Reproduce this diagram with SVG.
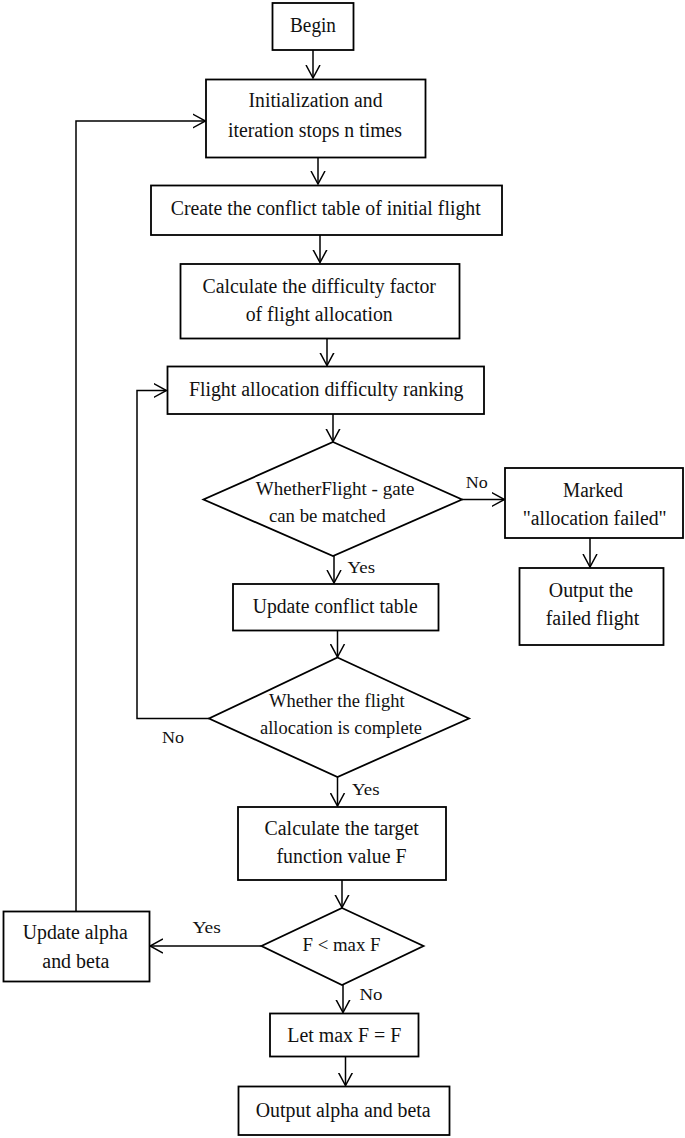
<svg xmlns="http://www.w3.org/2000/svg" width="685" height="1138" viewBox="0 0 685 1138">
<style>
.box{fill:#fff;stroke:#000;stroke-width:1.8}
.t{font-family:"Liberation Serif","Times New Roman",serif;font-size:20px;fill:#111;text-anchor:middle}
.d{font-family:"Liberation Serif","Times New Roman",serif;font-size:18px;fill:#111;text-anchor:middle}
.l{font-family:"Liberation Serif","Times New Roman",serif;font-size:17px;fill:#111}
.c{fill:none;stroke:#000;stroke-width:1.5}
</style>
<defs>
<marker id="arr" markerUnits="userSpaceOnUse" markerWidth="14" markerHeight="16" viewBox="0 0 14 16" refX="13" refY="8" orient="auto">
<path d="M0,1 L13,8 L0,15" fill="none" stroke="#000" stroke-width="1.5"/>
</marker>
</defs>
<rect width="685" height="1138" fill="#fff"/>
<g id="connectors">
<path class="c" d="M313,50 V78" marker-end="url(#arr)"/>
<path class="c" d="M318,157.5 V184" marker-end="url(#arr)"/>
<path class="c" d="M320,235 V262.5" marker-end="url(#arr)"/>
<path class="c" d="M327,338.5 V365.5" marker-end="url(#arr)"/>
<path class="c" d="M333,414 V441.5" marker-end="url(#arr)"/>
<path class="c" d="M462,499.5 H504.5" marker-end="url(#arr)"/>
<path class="c" d="M590,538 V567" marker-end="url(#arr)"/>
<path class="c" d="M334,556 V583" marker-end="url(#arr)"/>
<path class="c" d="M337.5,630.5 V657" marker-end="url(#arr)"/>
<path class="c" d="M209,718.5 H137 V390.5 H166.5" marker-end="url(#arr)"/>
<path class="c" d="M337.5,777 V806" marker-end="url(#arr)"/>
<path class="c" d="M342,880 V907.5" marker-end="url(#arr)"/>
<path class="c" d="M261.5,946 H150" marker-end="url(#arr)"/>
<path class="c" d="M76,911.5 V121 H205.5" marker-end="url(#arr)"/>
<path class="c" d="M343,985 V1012.5" marker-end="url(#arr)"/>
<path class="c" d="M345.5,1056.5 V1085.5" marker-end="url(#arr)"/>
<text class="l" x="465.7" y="488" textLength="22" lengthAdjust="spacingAndGlyphs">No</text>
<text class="l" x="347.6" y="573" textLength="27.5" lengthAdjust="spacingAndGlyphs">Yes</text>
<text class="l" x="162" y="742.5" textLength="22" lengthAdjust="spacingAndGlyphs">No</text>
<text class="l" x="352" y="795" textLength="27.5" lengthAdjust="spacingAndGlyphs">Yes</text>
<text class="l" x="192.4" y="932.5" textLength="28.4" lengthAdjust="spacingAndGlyphs">Yes</text>
<text class="l" x="359.4" y="1000" textLength="23" lengthAdjust="spacingAndGlyphs">No</text>
</g>
<g id="begin">
<rect class="box" x="272.5" y="3" width="81" height="47"/>
<text class="t" x="313" y="32" textLength="46" lengthAdjust="spacingAndGlyphs">Begin</text>
</g>
<g id="init">
<rect class="box" x="206" y="79.5" width="219.5" height="78"/>
<text class="t" x="315.5" y="107" textLength="134" lengthAdjust="spacingAndGlyphs">Initialization and</text>
<text class="t" x="315" y="137" textLength="174" lengthAdjust="spacingAndGlyphs">iteration stops n times</text>
</g>
<g id="create">
<rect class="box" x="151" y="185.5" width="351" height="49.5"/>
<text class="t" x="325.7" y="215" textLength="310" lengthAdjust="spacingAndGlyphs">Create the conflict table of initial flight</text>
</g>
<g id="calcdiff">
<rect class="box" x="180.5" y="264" width="279" height="74.5"/>
<text class="t" x="319.2" y="293" textLength="233.5" lengthAdjust="spacingAndGlyphs">Calculate the difficulty factor</text>
<text class="t" x="319.2" y="321" textLength="147" lengthAdjust="spacingAndGlyphs">of flight allocation</text>
</g>
<g id="ranking">
<rect class="box" x="167.5" y="366.5" width="316.5" height="47.5"/>
<text class="t" x="326.2" y="396" textLength="274.6" lengthAdjust="spacingAndGlyphs">Flight allocation difficulty ranking</text>
</g>
<g id="match">
<polygon class="box" points="333,442 462,499.5 333,556 203.5,499.5"/>
<text class="d" x="335.1" y="495" textLength="158.7" lengthAdjust="spacingAndGlyphs">WhetherFlight - gate</text>
<text class="d" x="327.3" y="521.5" textLength="116.7" lengthAdjust="spacingAndGlyphs">can be matched</text>
</g>
<g id="marked">
<rect class="box" x="505" y="468" width="178" height="70"/>
<text class="t" x="593" y="497" textLength="60" lengthAdjust="spacingAndGlyphs">Marked</text>
<text class="t" x="594.7" y="525" textLength="144" lengthAdjust="spacingAndGlyphs">"allocation failed"</text>
</g>
<g id="outfailed">
<rect class="box" x="519.5" y="568" width="144" height="77"/>
<text class="t" x="591" y="597" textLength="84.4" lengthAdjust="spacingAndGlyphs">Output the</text>
<text class="t" x="592.5" y="625" textLength="93.6" lengthAdjust="spacingAndGlyphs">failed flight</text>
</g>
<g id="updateconflict">
<rect class="box" x="233" y="584" width="205.5" height="46.5"/>
<text class="t" x="335.2" y="612.5" textLength="165" lengthAdjust="spacingAndGlyphs">Update conflict table</text>
</g>
<g id="complete">
<polygon class="box" points="337.5,657.5 469,718.5 337.5,777 209,718.5"/>
<text class="d" x="336.8" y="706.5" textLength="135.5" lengthAdjust="spacingAndGlyphs">Whether the flight</text>
<text class="d" x="341" y="734" textLength="162" lengthAdjust="spacingAndGlyphs">allocation is complete</text>
</g>
<g id="calctarget">
<rect class="box" x="238" y="807" width="208" height="73"/>
<text class="t" x="341.7" y="835" textLength="154.4" lengthAdjust="spacingAndGlyphs">Calculate the target</text>
<text class="t" x="341.5" y="863" textLength="130" lengthAdjust="spacingAndGlyphs">function value F</text>
</g>
<g id="compare">
<polygon class="box" points="342,908 423.5,946 342,985 261.5,946"/>
<text class="d" x="341.5" y="951" textLength="78" lengthAdjust="spacingAndGlyphs">F &lt; max  F</text>
</g>
<g id="updatealpha">
<rect class="box" x="3.5" y="911.5" width="146" height="70"/>
<text class="t" x="75.2" y="939" textLength="105" lengthAdjust="spacingAndGlyphs">Update alpha</text>
<text class="t" x="75.8" y="968" textLength="67" lengthAdjust="spacingAndGlyphs">and beta</text>
</g>
<g id="letmax">
<rect class="box" x="270" y="1013.5" width="148.5" height="43"/>
<text class="t" x="344.3" y="1041.5" textLength="114" lengthAdjust="spacingAndGlyphs">Let max F = F</text>
</g>
<g id="output">
<rect class="box" x="238.5" y="1086.5" width="211" height="48.5"/>
<text class="t" x="343.2" y="1116.5" textLength="175" lengthAdjust="spacingAndGlyphs">Output alpha and beta</text>
</g>
</svg>
